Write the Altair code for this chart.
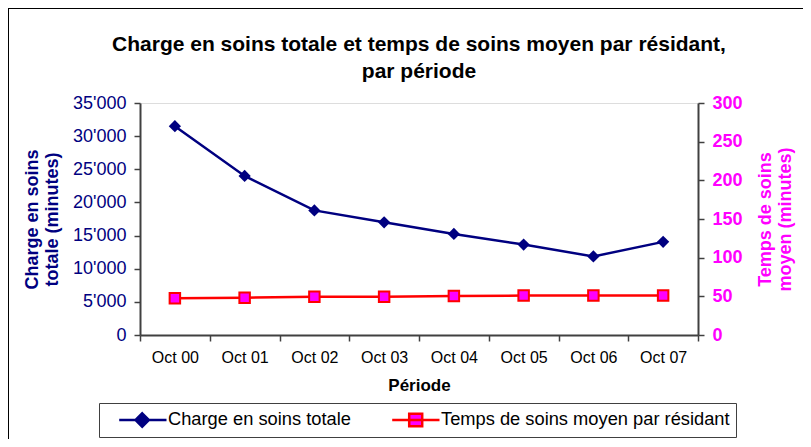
import altair as alt
import pandas as pd

# ---- data ----
periodes = ["Oct 00", "Oct 01", "Oct 02", "Oct 03", "Oct 04", "Oct 05", "Oct 06", "Oct 07"]
charge_totale = [31500, 24000, 18800, 17000, 15250, 13650, 11850, 14050]
temps_moyen = [47.5, 48.3, 49.5, 49.5, 50.5, 51.0, 51.0, 51.0]
series = ["Charge en soins totale", "Temps de soins moyen par résidant"]
left_ticks = [0, 5000, 10000, 15000, 20000, 25000, 30000, 35000]
right_ticks = [0, 50, 100, 150, 200, 250, 300]

df = pd.DataFrame({"periode": periodes, "charge": charge_totale, "temps": temps_moyen})

NAVY = "#000080"
RED = "#FF0000"
MAGENTA = "#FF00FF"
FONT = "Liberation Sans"
AXC = "#404040"

x_enc = alt.X(
    "periode:O",
    sort=periodes,
    bandPosition=0.5,
    scale=alt.Scale(type="band", paddingInner=0, paddingOuter=0),
    axis=alt.Axis(
        title="Période", tickBand="extent", labelAngle=0, labelFont=FONT,
        labelFontSize=16, labelColor="black", titleFont=FONT, titleFontSize=17,
        titleFontWeight="bold", titleColor="black", domainColor=AXC, domainWidth=2,
        tickColor=AXC, tickWidth=1.5, tickSize=6, labelPadding=8, titlePadding=12,
        grid=False,
    ),
)

y_left = alt.Y(
    "charge:Q",
    scale=alt.Scale(domain=[0, 35000], nice=False),
    axis=alt.Axis(
        orient="left", values=left_ticks,
        labelExpr="replace(format(datum.value, ','), ',', \"'\")",
        title=["Charge en soins", "totale (minutes)"], titleColor=NAVY,
        titleFont=FONT, titleFontSize=18, titleFontWeight="bold", titlePadding=11,
        labelColor=NAVY, labelFont=FONT, labelFontSize=18, labelPadding=8,
        domainColor=AXC, domainWidth=2, tickColor=AXC, tickWidth=1.5, tickSize=6,
        grid=False,
    ),
)

y_right = alt.Y(
    "temps:Q",
    scale=alt.Scale(domain=[0, 300], nice=False),
    axis=alt.Axis(
        orient="right", values=right_ticks,
        title=["Temps de soins", "moyen (minutes)"], titleColor=MAGENTA, titleAngle=-90,
        titleFont=FONT, titleFontSize=18, titleFontWeight="bold", titlePadding=12,
        labelColor=MAGENTA, labelFont=FONT, labelFontSize=18, labelFontWeight="bold",
        labelPadding=8, domainColor=AXC, domainWidth=2, tickColor=AXC, tickWidth=1.5,
        tickSize=6, grid=False,
    ),
)

legend = alt.Legend(
    title=None, orient="none", legendX=-41, legendY=300, direction="horizontal",
    symbolSize=400, symbolStrokeWidth=2.5, symbolOpacity=1, labelFont=FONT,
    labelFontSize=18.3, labelColor="black", labelOffset=40, labelLimit=500,
    columnPadding=27, padding=6, clipHeight=22, strokeColor=AXC, fillColor="white",
)

path_blue = "M0.27,0H5.0M2.57,-0.67L3.24,0L2.57,0.67L1.9,0Z"
path_red = "M0.27,0H5.0M1.97,-0.62H3.27V0.62H1.97Z"

base = alt.Chart(df)

line_c = base.mark_line(color=NAVY, strokeWidth=2.5).encode(x=x_enc, y=y_left)
pts_c = base.mark_point(shape="diamond", filled=True, color=NAVY, size=150, opacity=1).encode(x=x_enc, y=y_left)
legend_layer = (
    base.transform_filter("datum.charge < 0")
    .transform_calculate(serie="'" + series[0] + "'")
    .mark_point(filled=True, opacity=1)
    .encode(
        x=x_enc, y=y_left,
        shape=alt.Shape("serie:N", scale=alt.Scale(domain=series, range=[path_blue, path_red]), legend=legend),
        fill=alt.Fill("serie:N", scale=alt.Scale(domain=series, range=[NAVY, MAGENTA]), legend=legend),
        stroke=alt.Stroke("serie:N", scale=alt.Scale(domain=series, range=[NAVY, RED]), legend=legend),
    )
)
left = alt.layer(line_c, pts_c, legend_layer)

line_t = base.mark_line(color=RED, strokeWidth=2.5).encode(x=x_enc, y=y_right)
pts_t = base.mark_point(shape="square", filled=True, fill=MAGENTA, stroke=RED, strokeWidth=2,
                        size=110, opacity=1).encode(x=x_enc, y=y_right)
right = alt.layer(line_t, pts_t)

border = alt.Chart(pd.DataFrame({"a": [0]})).mark_rect(filled=False, stroke="black", strokeWidth=2).encode(
    x=alt.value(-132), x2=alt.value(900), y=alt.value(-95), y2=alt.value(600)
)

chart = (
    alt.layer(border, left, right)
    .resolve_scale(y="independent")
    .properties(
        width=558, height=232,
        title=alt.TitleParams(
            text=["Charge en soins totale et temps de soins moyen par résidant,", "par période"],
            font=FONT, fontSize=21, fontWeight="bold", color="black", anchor="middle",
            offset=20, dy=95, lineHeight=27,
        ),
        autosize=alt.AutoSizeParams(type="none"),
        padding={"left": 132, "top": 95, "right": 105, "bottom": 104},
    )
    .configure_view(stroke="#808080", strokeWidth=2)
    .configure(background="white")
)

chart.save("out.html", embed_options={"renderer": "svg", "actions": False})
